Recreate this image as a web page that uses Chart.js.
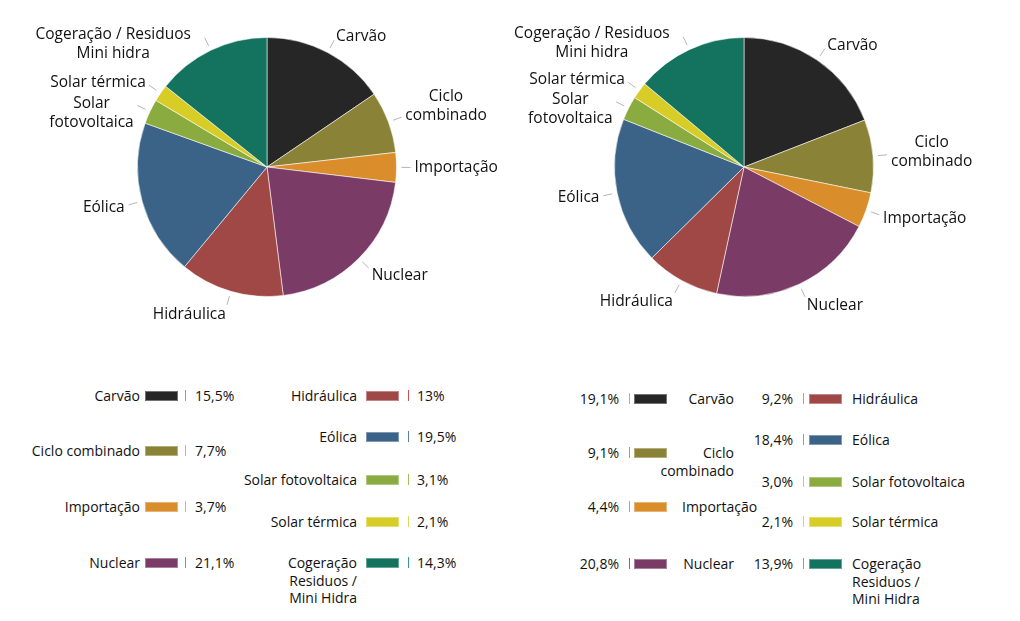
<!DOCTYPE html>
<html>
<head>
<meta charset="utf-8">
<script src="https://cdn.jsdelivr.net/npm/chart.js@4.4.1/dist/chart.umd.min.js"></script>
<style>
  html, body { margin: 0; padding: 0; background: #fff; }
  body { width: 1020px; height: 621px; position: relative; overflow: hidden;
         font-family: "Open Sans", "DejaVu Sans", sans-serif; color: #111; font-weight: 500; }
  canvas { position: absolute; top: 0; }
  .t { position: absolute; font-size: 14px; line-height: 17.5px; white-space: nowrap; }
  .sw { position: absolute; width: 33px; height: 10px; box-sizing: border-box; border: 1px solid rgba(255,255,255,0.35); }
  .tk { position: absolute; width: 1px; height: 11px; }
</style>
</head>
<body>
<canvas id="c1" width="510" height="340" style="left:0px"></canvas>
<canvas id="c2" width="510" height="340" style="left:510px"></canvas>
<div id="legends"></div>
<script>
// ---- data ----
const categories = ['Carvão', 'Ciclo combinado', 'Importação', 'Nuclear', 'Hidráulica',
                    'Eólica', 'Solar fotovoltaica', 'Solar térmica', 'Cogeração / Residuos / Mini hidra'];
const colors = ['#262626', '#8a8337', '#d98e2b', '#7b3b67', '#9f4846',
                '#3b6388', '#8aab3f', '#d8cc27', '#13735f'];
const valuesA = [15.5, 7.7, 3.7, 21.1, 13, 19.5, 3.1, 2.1, 14.3];
const valuesB = [19.1, 9.1, 4.4, 20.8, 9.2, 18.4, 3.0, 2.1, 13.9];
const valueTextA = ['15,5%', '7,7%', '3,7%', '21,1%', '13%', '19,5%', '3,1%', '2,1%', '14,3%'];
const valueTextB = ['19,1%', '9,1%', '4,4%', '20,8%', '9,2%', '18,4%', '3,0%', '2,1%', '13,9%'];
const pieLabels = [['Carvão'], ['Ciclo', 'combinado'], ['Importação'], ['Nuclear'], ['Hidráulica'],
                   ['Eólica'], ['Solar', 'fotovoltaica'], ['Solar térmica'], ['Cogeração / Residuos', 'Mini hidra']];
const legendLabelsA = [['Carvão'], ['Ciclo combinado'], ['Importação'], ['Nuclear'], ['Hidráulica'],
                       ['Eólica'], ['Solar fotovoltaica'], ['Solar térmica'], ['Cogeração', 'Residuos /', 'Mini Hidra']];
const legendLabelsB = [['Carvão'], ['Ciclo', 'combinado'], ['Importação'], ['Nuclear'], ['Hidráulica'],
                       ['Eólica'], ['Solar fotovoltaica'], ['Solar térmica'], ['Cogeração', 'Residuos /', 'Mini Hidra']];
const tickColorsA = ['#9a9a9a', '#c4bd6e', '#eab06a', '#b07aa0', '#d0504c', '#5a82a8', '#9cc05a', '#e0d65a', '#3a9a85'];
const tickColorsB = ['#8fd14f', '#9a9a9a', '#e59a3a', '#a05a8a', '#d09090', '#8aa0b8', '#b8d080', '#e0d65a', '#6ab0a0'];

// ---- outside labels plugin ----
const outLabels = {
  id: 'outLabels',
  afterDatasetsDraw(chart, args, opts) {
    const ctx = chart.ctx;
    const meta = chart.getDatasetMeta(0);
    ctx.save();
    ctx.font = '500 15.5px "Open Sans"';
    ctx.textBaseline = 'middle';
    ctx.textAlign = 'center';
    meta.data.forEach((arc, i) => {
      const p = arc.getProps(['x', 'y', 'startAngle', 'endAngle', 'outerRadius'], true);
      const mid = (p.startAngle + p.endAngle) / 2;
      const c = Math.cos(mid), s = Math.sin(mid);
      const r = p.outerRadius;
      ctx.strokeStyle = '#b5b5b5';
      ctx.lineWidth = 1;
      ctx.beginPath();
      ctx.moveTo(p.x + c * (r + 5), p.y + s * (r + 5));
      ctx.lineTo(p.x + c * (r + 14), p.y + s * (r + 14));
      ctx.stroke();
      let ax = p.x + c * (r + 18), ay = p.y + s * (r + 18);
      if (s > 0) ay += s * 6;
      const lines = opts.labels[i];
      const bw = Math.max(...lines.map(l => ctx.measureText(l).width));
      let left;
      if (c > 0.1) left = ax; else if (c < -0.1) left = ax - bw; else left = ax - bw / 2;
      // labels near the top-left sit a little further out horizontally
      if (c < 0 && s < -0.8) left -= 12;
      const lh = 19;
      let f;
      if (c < 0) f = 0; else f = Math.min(1, Math.max(0, 0.5 - 1.5 * s));
      const y0 = ay - (lines.length - 1) * lh * f;
      ctx.fillStyle = '#111';
      lines.forEach((l, k) => ctx.fillText(l, left + bw / 2, y0 + k * lh));
    });
    ctx.restore();
  }
};

function makePie(id, values, pad) {
  return new Chart(document.getElementById(id), {
    type: 'pie',
    data: {
      labels: categories,
      datasets: [{ data: values, backgroundColor: colors, borderColor: 'rgba(255,255,255,0.55)', borderWidth: 1 }]
    },
    options: {
      responsive: false,
      animation: false,
      layout: { padding: pad },
      plugins: { legend: { display: false }, tooltip: { enabled: false }, outLabels: { labels: pieLabels } }
    },
    plugins: [outLabels]
  });
}
makePie('c1', valuesA, { left: 137, right: 113, top: 37, bottom: 43 });
makePie('c2', valuesB, { left: 104, right: 146, top: 37, bottom: 43 });

// ---- legends (HTML text) ----
const L = document.getElementById('legends');
const mctx = document.createElement('canvas').getContext('2d');
mctx.font = '500 14px "Open Sans"';
function el(cls, css, html) {
  const d = document.createElement('div');
  d.className = cls; d.style.cssText = css;
  if (html !== undefined) d.innerHTML = html;
  L.appendChild(d); return d;
}
const LH = 17.5;
// left legend: label | swatch | tick | value
function legendA(indices, ys, labelRight, swX, tkX, valX) {
  indices.forEach((idx, k) => {
    const y = ys[k];
    const lines = legendLabelsA[idx];
    el('t', `right:${1020 - labelRight}px;top:${y - LH / 2}px;text-align:right;`, lines.join('<br>'));
    el('sw', `left:${swX}px;top:${y - 5}px;background:${colors[idx]};`);
    el('tk', `left:${tkX}px;top:${y - 6}px;background:${tickColorsA[idx]};`);
    el('t', `left:${valX}px;top:${y - LH / 2}px;`, valueTextA[idx]);
  });
}
legendA([0, 1, 2, 3], [396, 451, 507, 563], 140, 145, 185, 195);
legendA([4, 5, 6, 7, 8], [396, 437, 480, 522, 563], 357, 366, 408, 417);

// right legend: value | tick | swatch | label
function legendB(indices, ys, valRight, tkX, swX, labelPos, alignRight) {
  indices.forEach((idx, k) => {
    const y = ys[k];
    const lines = legendLabelsB[idx];
    el('t', `right:${1020 - valRight}px;top:${y - LH / 2}px;text-align:right;`, valueTextB[idx]);
    el('tk', `left:${tkX}px;top:${y - 6}px;background:${tickColorsB[idx]};`);
    el('sw', `left:${swX}px;top:${y - 5}px;background:${colors[idx]};`);
    if (alignRight) {
      lines.forEach((l, j) => {
        const w = mctx.measureText(l).width;
        let lx = labelPos - w;
        if (j === 0) lx = Math.max(lx, swX + 48);
        el('t', `left:${lx}px;top:${y - LH / 2 + j * LH}px;`, l);
      });
    } else {
      el('t', `left:${labelPos}px;top:${y - LH / 2}px;`, lines.join('<br>'));
    }
  });
}
legendB([0, 1, 2, 3], [399, 453, 507, 564], 619, 629, 634, 734, true);
legendB([4, 5, 6, 7, 8], [399, 440, 482, 522, 564], 793, 803, 809, 852, false);
</script>
</body>
</html>
